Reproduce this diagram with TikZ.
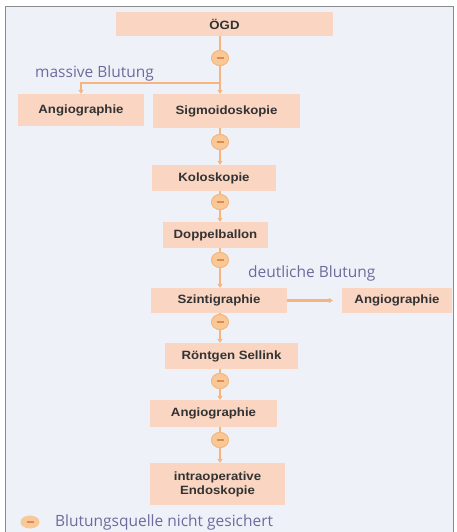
\documentclass[tikz,border=0pt]{standalone}
\usepackage{fontspec}
\setmainfont{Liberation Sans}
\newfontfamily\boxfont[FakeStretch=1.1]{Liberation Sans}
\newfontfamily\labfont{Open Sans}
\usetikzlibrary{arrows.meta,shapes.geometric}
\definecolor{bg}{HTML}{EEF2F8}
\definecolor{boxfill}{HTML}{F9D5C2}
\definecolor{conn}{HTML}{F6B57E}
\definecolor{minfill}{HTML}{F9C897}
\definecolor{mintxt}{HTML}{E0894C}
\definecolor{labcol}{HTML}{6C6C9C}
\definecolor{txtcol}{HTML}{333333}
\definecolor{frame}{HTML}{8A8A8A}
\tikzset{
  stepbox/.style={fill=boxfill, draw=none, inner sep=0pt, align=center,
    font=\boxfont\bfseries\fontsize{12}{14}\selectfont, text=txtcol},
  minusnode/.style={ellipse, fill=minfill, draw=conn, line width=0.8pt,
    minimum width=17pt, minimum height=15pt, inner sep=0pt,
    path picture={\draw[mintxt, line width=1.6pt] ([xshift=-3.5pt]path picture bounding box.center) -- ([xshift=3.5pt]path picture bounding box.center);}},
  link/.style={draw=conn, line width=2.2pt},
  arrowlink/.style={link, -{Triangle[length=4pt,width=5pt]}},
  lab/.style={font=\labfont\fontsize{15.5}{18}\selectfont, text=labcol, inner sep=0pt}
}
\begin{document}
\begin{tikzpicture}[x=1pt,y=-1pt]
\useasboundingbox (0,0) rectangle (456,532);
\fill[white] (0,0) rectangle (456,532);
\fill[bg] (5,7) rectangle (453,532);
\draw[frame, line width=1pt] (5,532) -- (5,7) -- (453,7) -- (453,532);

% boxes
\node[stepbox, minimum width=217pt, minimum height=24pt] (ogd) at (224.5,24) {ÖGD};
\node[stepbox, minimum width=126pt, minimum height=32pt] (angL) at (81,110) {Angiographie};
\node[stepbox, minimum width=147pt, minimum height=34pt] (sig) at (226.5,111) {Sigmoidoskopie};
\node[stepbox, minimum width=124pt, minimum height=26pt] (kol) at (214,178) {Koloskopie};
\node[stepbox, minimum width=105pt, minimum height=26pt] (dop) at (215.5,235) {Doppelballon};
\node[stepbox, minimum width=136pt, minimum height=25pt] (szi) at (219,300.5) {Szintigraphie};
\node[stepbox, minimum width=110pt, minimum height=25pt] (angR) at (397,300.5) {Angiographie};
\node[stepbox, minimum width=133pt, minimum height=26pt] (rnt) at (231.5,356) {Röntgen Sellink};
\node[stepbox, minimum width=127pt, minimum height=27pt] (ang2) at (213.5,413.5) {Angiographie};
\node[stepbox, minimum width=135pt, minimum height=42pt] (intra) at (217.5,484) {intraoperative\\Endoskopie};

% minus markers
\node[minusnode] (m1) at (220,58) {};
\node[minusnode] (m2) at (220,142) {};
\node[minusnode] (m3) at (220,202) {};
\node[minusnode] (m4) at (220,260) {};
\node[minusnode] (m5) at (220,322) {};
\node[minusnode] (m6) at (220,381) {};
\node[minusnode] (m7) at (220,440) {};
\coordinate (j1) at (220,83);

% connectors
\draw[link] (ogd.south -| m1) -- (m1);
\draw[link] (m1) -- (j1);
\draw[arrowlink] (j1) -- (sig.north -| j1);
\draw[arrowlink] (j1) -| (angL.north);
\draw[link] (sig.south -| m2) -- (m2);
\draw[arrowlink] (m2) -- (kol.north -| m2);
\draw[link] (kol.south -| m3) -- (m3);
\draw[arrowlink] (m3) -- (dop.north -| m3);
\draw[link] (dop.south -| m4) -- (m4);
\draw[arrowlink] (m4) -- (szi.north -| m4);
\draw[link] (szi.south -| m5) -- (m5);
\draw[arrowlink] (m5) -- (rnt.north -| m5);
\draw[link] (rnt.south -| m6) -- (m6);
\draw[arrowlink] (m6) -- (ang2.north -| m6);
\draw[link] (ang2.south -| m7) -- (m7);
\draw[arrowlink] (m7) -- (intra.north -| m7);
\draw[arrowlink, shorten >=9pt] (szi.east) -- (angR.west);

% redraw markers above lines
\foreach \m in {m1,m2,m3,m4,m5,m6,m7}{
  \node[minusnode] at (\m) {};
}

% labels
\node[lab, anchor=west] (massiv) at (35,73) {massive Blutung};
\node[lab, anchor=west] (deutl) at (248,273) {deutliche Blutung};

% legend
\node[minusnode, minimum width=19pt, minimum height=13pt, draw=none] (legm) at (30,522) {};
\node[lab, anchor=west] (legt) at (55,522) {Blutungsquelle nicht gesichert};
\end{tikzpicture}
\end{document}
